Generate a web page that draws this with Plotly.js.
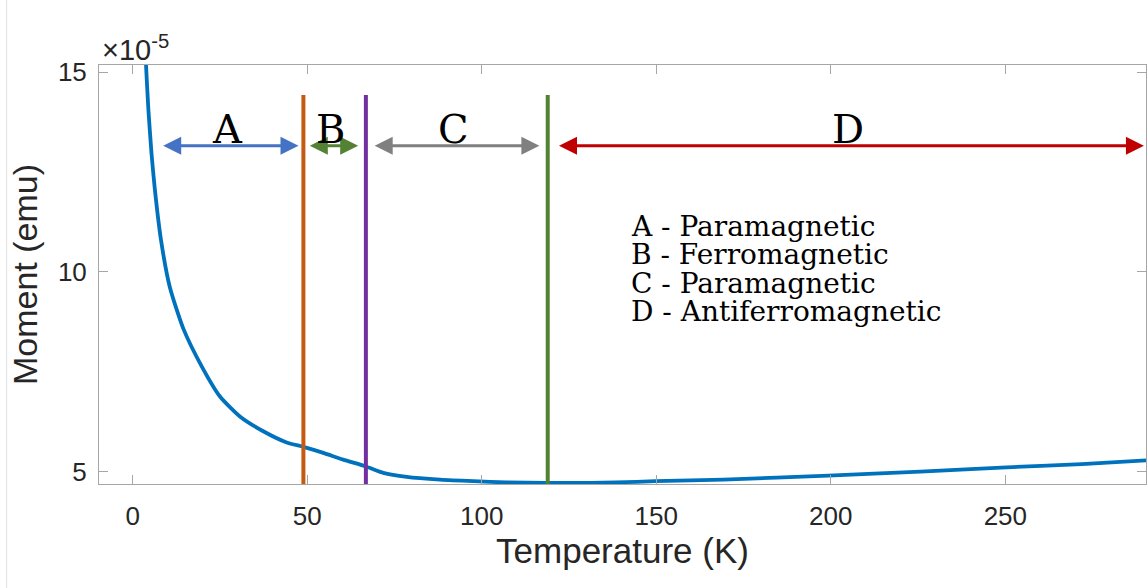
<!DOCTYPE html>
<html>
<head>
<meta charset="utf-8">
<script src="https://cdn.plot.ly/plotly-3.0.1.min.js"></script>
<style>html,body{margin:0;padding:0;background:#fff;}#chart{width:1148px;height:588px;}</style>
</head>
<body>
<div id="chart"></div>
<script>
// Temperature (K) and magnetic moment (x1e-5 emu)
const temperature = [3.0, 3.8, 4.5, 5.4, 6.3, 8.1, 10.6, 14.5, 19.8, 25.0, 30.7, 37.4, 44.1, 48.9, 54.6, 60.3, 66.8, 71.8, 78.5, 88.1, 97.6, 107.2, 118.6, 131.0, 138.4, 149.7, 169.3, 199.3, 225.7, 248.8, 271.9, 290.3];
const moment = [16.8, 15.2, 14.05, 12.95, 12.1, 10.8, 9.63, 8.58, 7.63, 6.88, 6.38, 6.01, 5.73, 5.62, 5.47, 5.30, 5.13, 4.97, 4.87, 4.80, 4.76, 4.73, 4.72, 4.72, 4.73, 4.76, 4.80, 4.90, 5.00, 5.10, 5.19, 5.28];

// Phase transition temperatures (K)
const transitionT = [48.9, 66.8, 118.9];
const transitionColors = ['#C55A11', '#7030A0', '#548235'];

// Phase regions: label, start, end (K)
const regionLabels = ['A', 'B', 'C', 'D'];
const regionStart = [8.3, 50.3, 68.9, 121.7];
const regionEnd = [47.5, 64.6, 116.5, 289.7];
const regionColors = ['#4472C4', '#548235', '#808080', '#C00000'];

// Legend text
const phaseDescriptions = ['A - Paramagnetic', 'B - Ferromagnetic', 'C - Paramagnetic', 'D - Antiferromagnetic'];

const xRange = [-9.66, 290.3];
const yRange = [4.69, 15.18];
const lineTop = 14.43;
const arrowY = 13.16;
const letterY = 13.58;

const traces = [{
  x: temperature, y: moment, type: 'scatter', mode: 'lines',
  line: {color: '#0072BD', width: 3.8, shape: 'spline', smoothing: 0.6},
  hoverinfo: 'skip', showlegend: false
}];
transitionT.forEach((t, i) => {
  traces.push({
    x: [t, t], y: [yRange[0], lineTop], type: 'scatter', mode: 'lines',
    line: {color: transitionColors[i], width: 4}, showlegend: false, hoverinfo: 'skip', cliponaxis: true
  });
});

const annotations = [];
regionLabels.forEach((lab, i) => {
  annotations.push({
    x: regionEnd[i], y: arrowY, ax: regionStart[i], ay: arrowY,
    xref: 'x', yref: 'y', axref: 'x', ayref: 'y',
    text: '', showarrow: true, arrowhead: 2, arrowside: 'end+start',
    arrowsize: 1.2, arrowwidth: 3, arrowcolor: regionColors[i],
    standoff: 0, startstandoff: 0
  });
  annotations.push({
    x: (regionStart[i] + regionEnd[i]) / 2 - 0.8, y: letterY, xref: 'x', yref: 'y',
    text: lab, showarrow: false, xanchor: 'center', yanchor: 'middle',
    font: {family: 'DejaVu Serif', size: 40, color: '#000'}
  });
});
const descY = [11.135, 10.428, 9.718, 9.01];
phaseDescriptions.forEach((d, i) => {
  annotations.push({
    x: 142.6, y: descY[i], xref: 'x', yref: 'y', text: d, showarrow: false,
    xanchor: 'left', yanchor: 'middle', borderpad: 0,
    font: {family: 'DejaVu Serif', size: 28, color: '#000'}
  });
});
annotations.push({
  x: 0, y: 1, xref: 'paper', yref: 'paper', xanchor: 'left', yanchor: 'bottom',
  xshift: 1, yshift: -3, text: '\u00d710<sup>-5</sup>', showarrow: false,
  font: {family: 'Liberation Sans', size: 29, color: '#262626'}
});

const axisCommon = {
  showline: true, linecolor: '#a6a6a6', linewidth: 1, mirror: 'ticks',
  ticks: 'inside', ticklen: 9, tickcolor: '#a6a6a6', tickwidth: 1,
  showgrid: false, zeroline: false,
  tickfont: {family: 'Liberation Sans', size: 26, color: '#262626'}
};

const layout = {
  width: 1148, height: 588,
  margin: {l: 99, r: 2, t: 65, b: 104, pad: 0},
  paper_bgcolor: '#fff', plot_bgcolor: '#fff',
  xaxis: Object.assign({}, axisCommon, {
    range: xRange, tickvals: [0, 50, 100, 150, 200, 250],
    ticklabelstandoff: 9,
    title: {text: 'Temperature (K)', font: {family: 'Liberation Sans', size: 35, color: '#262626'}, standoff: 6}
  }),
  yaxis: Object.assign({}, axisCommon, {
    range: yRange, tickvals: [5, 10, 15],
    ticklabelstandoff: 6,
    title: {text: 'Moment (emu)', font: {family: 'Liberation Sans', size: 34, color: '#262626'}, standoff: 9}
  }),
  annotations: annotations,
  shapes: [{type: 'line', xref: 'paper', yref: 'paper', x0: -0.0882, x1: -0.0882, y0: -0.25, y1: 1.16, line: {color: '#e0e0e0', width: 1}}],
  showlegend: false
};

Plotly.newPlot('chart', traces, layout, {displayModeBar: false, staticPlot: true});
</script>
</body>
</html>
